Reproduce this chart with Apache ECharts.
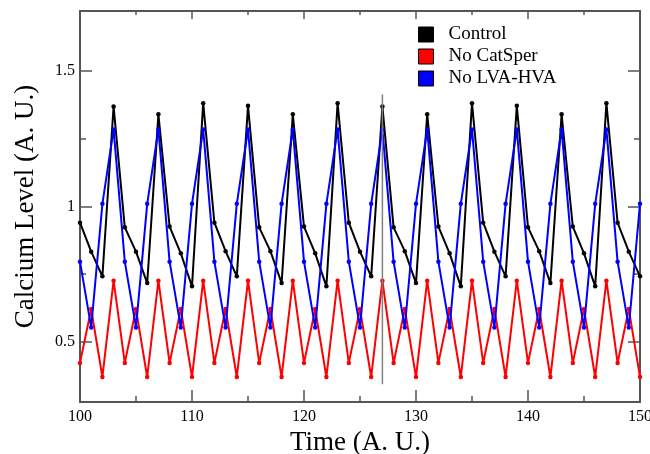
<!DOCTYPE html>
<html>
<head>
<meta charset="utf-8">
<script src="https://cdn.jsdelivr.net/npm/echarts@6/dist/echarts.min.js"></script>
<style>
html,body{margin:0;padding:0;background:#fff;}
#chart{width:650px;height:454px;}
</style>
</head>
<body>
<div id="chart"></div>
<script>
// ---- data ----
var time = [100,101,102,103,104,105,106,107,108,109,110,111,112,113,114,115,116,117,118,119,120,121,122,123,124,125,126,127,128,129,130,131,132,133,134,135,136,137,138,139,140,141,142,143,144,145,146,147,148,149,150];
var control = [0.94,0.833,0.742,1.37,0.923,0.833,0.717,1.341,0.926,0.827,0.705,1.382,0.94,0.835,0.742,1.372,0.923,0.835,0.717,1.341,0.926,0.827,0.705,1.382,0.94,0.833,0.742,1.37,0.923,0.835,0.717,1.341,0.926,0.827,0.705,1.382,0.94,0.833,0.742,1.372,0.923,0.835,0.717,1.341,0.926,0.827,0.705,1.382,0.94,0.833,0.742];
var noCatSper = [0.422,0.621,0.37,0.726,0.422,0.621,0.37,0.726,0.422,0.621,0.37,0.726,0.422,0.621,0.37,0.726,0.422,0.621,0.37,0.726,0.422,0.621,0.37,0.726,0.422,0.621,0.37,0.726,0.422,0.621,0.37,0.726,0.422,0.621,0.37,0.726,0.422,0.621,0.37,0.726,0.422,0.621,0.37,0.726,0.422,0.621,0.37,0.726,0.422,0.621,0.37];
var noLvaHva = [0.796,0.553,1.01,1.285,0.796,0.553,1.01,1.285,0.796,0.553,1.01,1.285,0.796,0.553,1.01,1.285,0.796,0.553,1.01,1.285,0.796,0.553,1.01,1.285,0.796,0.553,1.01,1.285,0.796,0.553,1.01,1.285,0.796,0.553,1.01,1.285,0.796,0.553,1.01,1.285,0.796,0.553,1.01,1.285,0.796,0.553,1.01,1.285,0.796,0.553,1.01];
var seriesNames = ['Control','No CatSper','No LVA-HVA'];
var markerTime = [127,127];
var markerLevel = [0.343,1.414];
var yMajorTicks = [0.5,1,1.5];
var yMinorTicks = [0.75,1.25];
var xRange = [100,150];
var yRange = [0.2775,1.7225];

// ---- chart ----
function pairs(xs, ys){ return xs.map(function(x,i){ return [x, ys[i]]; }); }
var FONT = '"Liberation Serif","DejaVu Serif",serif';
var AX = '#555';
var colors = ['#000000','#ff0000','#0000ff'];

function xAx(pos, showLabel, majLen, minLen){
  return {
    type:'value', position:pos, min:xRange[0], max:xRange[1], interval:10,
    axisLine:{show:true, onZero:false, lineStyle:{color:AX,width:2}},
    axisTick:{show:true, inside:true, length:majLen, lineStyle:{color:AX,width:1.5}},
    minorTick:{show:true, splitNumber:2, length:minLen, lineStyle:{color:AX,width:1.5}},
    splitLine:{show:false}, minorSplitLine:{show:false},
    axisLabel:{show:showLabel, color:'#000', fontFamily:FONT, fontSize:16, margin:7},
    name: showLabel ? 'Time (A. U.)' : '', nameLocation:'middle', nameGap:26,
    nameTextStyle:{color:'#000', fontFamily:FONT, fontSize:27}
  };
}
function yAx(pos, ticks, len, showLine, showLabel){
  return {
    type:'value', position:pos, min:yRange[0], max:yRange[1],
    axisLine:{show:showLine, onZero:false, lineStyle:{color:AX,width:2}},
    axisTick:{show:true, inside:true, length:len, customValues:ticks, lineStyle:{color:AX,width:1.5}},
    splitLine:{show:false},
    axisLabel:{show:showLabel, customValues:yMajorTicks, color:'#000', fontFamily:FONT, fontSize:16, margin:5,
      formatter:function(v){ return String(v); }},
    name: showLabel ? 'Calcium Level (A. U.)' : '', nameLocation:'middle', nameGap:41,
    nameTextStyle:{color:'#000', fontFamily:FONT, fontSize:27}
  };
}

var series = [control, noCatSper, noLvaHva].map(function(vals, i){
  return {
    name: seriesNames[i], type:'line', xAxisIndex:0, yAxisIndex:0,
    data: pairs(time, vals), color: colors[i],
    symbol:'circle', symbolSize:4.5, showSymbol:true,
    lineStyle:{width:2, color:colors[i]}, itemStyle:{color:colors[i]},
    animation:false, z: 2+i
  };
});
series.push({
  name:'marker', type:'line', xAxisIndex:0, yAxisIndex:0,
  data: pairs(markerTime, markerLevel), symbol:'none',
  lineStyle:{width:1.5, color:'#808080'}, animation:false, z:10, silent:true
});

var chart = echarts.init(document.getElementById('chart'), null, {renderer:'canvas'});
chart.setOption({
  backgroundColor:'#fff',
  animation:false,
  grid:{left:80, right:10, top:11, bottom:52, containLabel:false, outerBoundsMode:'none'},
  xAxis:[xAx('bottom', true, 12, 6), xAx('top', false, 8, 4)],
  yAxis:[
    yAx('left', yMajorTicks, 12, true, true),
    yAx('left', yMinorTicks, 6, false, false),
    yAx('right', yMajorTicks, 12, true, false),
    yAx('right', yMinorTicks, 6, false, false)
  ],
  legend:{
    data: seriesNames, orient:'vertical', left:418, top:25, padding:0,
    icon:'rect', itemWidth:15, itemHeight:15, itemGap:3,
    itemStyle:{borderColor:'#000', borderWidth:1},
    textStyle:{color:'#000', fontFamily:FONT, fontSize:19, lineHeight:15, padding:[0,0,0,10]}
  },
  series: series
});
</script>
</body>
</html>
